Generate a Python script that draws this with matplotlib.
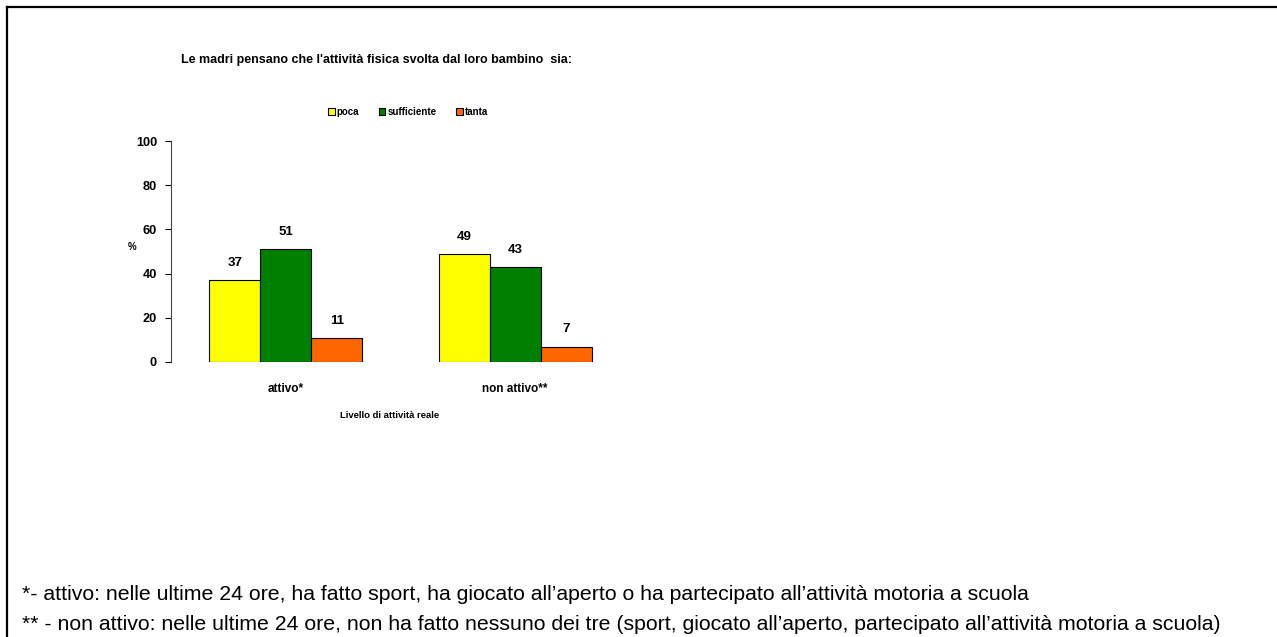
import matplotlib
matplotlib.use("Agg")
import matplotlib.pyplot as plt
import numpy as np
from matplotlib.lines import Line2D

categories = ["attivo*", "non attivo**"]
series = ["poca", "sufficiente", "tanta"]
poca = [37, 49]
sufficiente = [51, 43]
tanta = [11, 7]
colors = ["#FFFF00", "#008000", "#FF6600"]
yticks = [0, 20, 40, 60, 80, 100]

NARROW = ["Liberation Sans Narrow", "Liberation Sans", "DejaVu Sans"]
REG = ["Liberation Sans", "DejaVu Sans"]

W, H = 1277, 637
fig = plt.figure(figsize=(W / 100, H / 100), dpi=100)
fig.patch.set_facecolor("white")
# page frame (top and left edges visible)
fig.add_artist(Line2D([6.5 / W, 1], [1 - 6.5 / H, 1 - 6.5 / H], transform=fig.transFigure,
                      color="black", linewidth=1.6))
fig.add_artist(Line2D([6.5 / W, 6.5 / W], [1 - 6.5 / H, 0], transform=fig.transFigure,
                      color="black", linewidth=1.6))

ax_l, ax_r, ax_t, ax_b = 171, 630, 141, 362
ax = fig.add_axes([ax_l / W, 1 - ax_b / H, (ax_r - ax_l) / W, (ax_b - ax_t) / H])

x = np.arange(len(categories))
bw = 1 / 4.5
vals = [poca, sufficiente, tanta]
for i, (name, v, c) in enumerate(zip(series, vals, colors)):
    pos = x + (i - 1) * bw
    ax.bar(pos, v, width=bw, color=c, edgecolor="black", linewidth=0.8, label=name)
    for p, val in zip(pos, v):
        ax.text(p, val + 5, f"{val}", ha="center", va="bottom", fontsize=9.5,
                fontweight="bold", family=NARROW)

ax.set_xlim(-0.5, len(categories) - 0.5)
ax.set_ylim(0, 100)
ax.set_yticks(yticks)
ax.set_yticklabels([str(t) for t in yticks], fontsize=9.2, fontweight="bold", family=NARROW)
ax.set_xticks(x)
ax.set_xticklabels(categories, fontsize=8.5, fontweight="bold", family=NARROW)
ax.tick_params(axis="x", length=0, pad=15)
ax.tick_params(axis="y", length=4, width=0.8, direction="out", pad=6)
for s in ["top", "right", "bottom"]:
    ax.spines[s].set_visible(False)
ax.spines["left"].set_color("#444444")
ax.spines["left"].set_linewidth(0.8)

fig.text(132 / W, 1 - 247 / H, "%", ha="center", va="center", fontsize=7,
         fontweight="bold", family=NARROW)
fig.text(390 / W, 1 - 415 / H, "Livello di attività reale", ha="center", va="center",
         fontsize=6.8, fontweight="bold", family=NARROW)
fig.text(377 / W, 1 - 60 / H, "Le madri pensano che l'attività fisica svolta dal loro bambino  sia:",
         ha="center", va="center", fontsize=9, fontweight="bold", family=NARROW)

fig.legend(loc="center", bbox_to_anchor=(408 / W, 1 - 112 / H), ncol=3, frameon=False,
           prop={"family": NARROW, "weight": "bold", "size": 7},
           handlelength=0.7, handleheight=0.7, handletextpad=0.2, columnspacing=2.0)

fig.text(22 / W, 1 - 595 / H, "*- attivo: nelle ultime 24 ore, ha fatto sport, ha giocato all\u2019aperto o ha partecipato all\u2019attività motoria a scuola",
         ha="left", va="center", fontsize=15.3, family=REG)
fig.text(22 / W, 1 - 624 / H, "** - non attivo: nelle ultime 24 ore, non ha fatto nessuno dei tre (sport, giocato all\u2019aperto, partecipato all\u2019attività motoria a scuola)",
         ha="left", va="center", fontsize=15.3, family=REG)

fig.savefig("out.png", dpi=100, facecolor="white")
